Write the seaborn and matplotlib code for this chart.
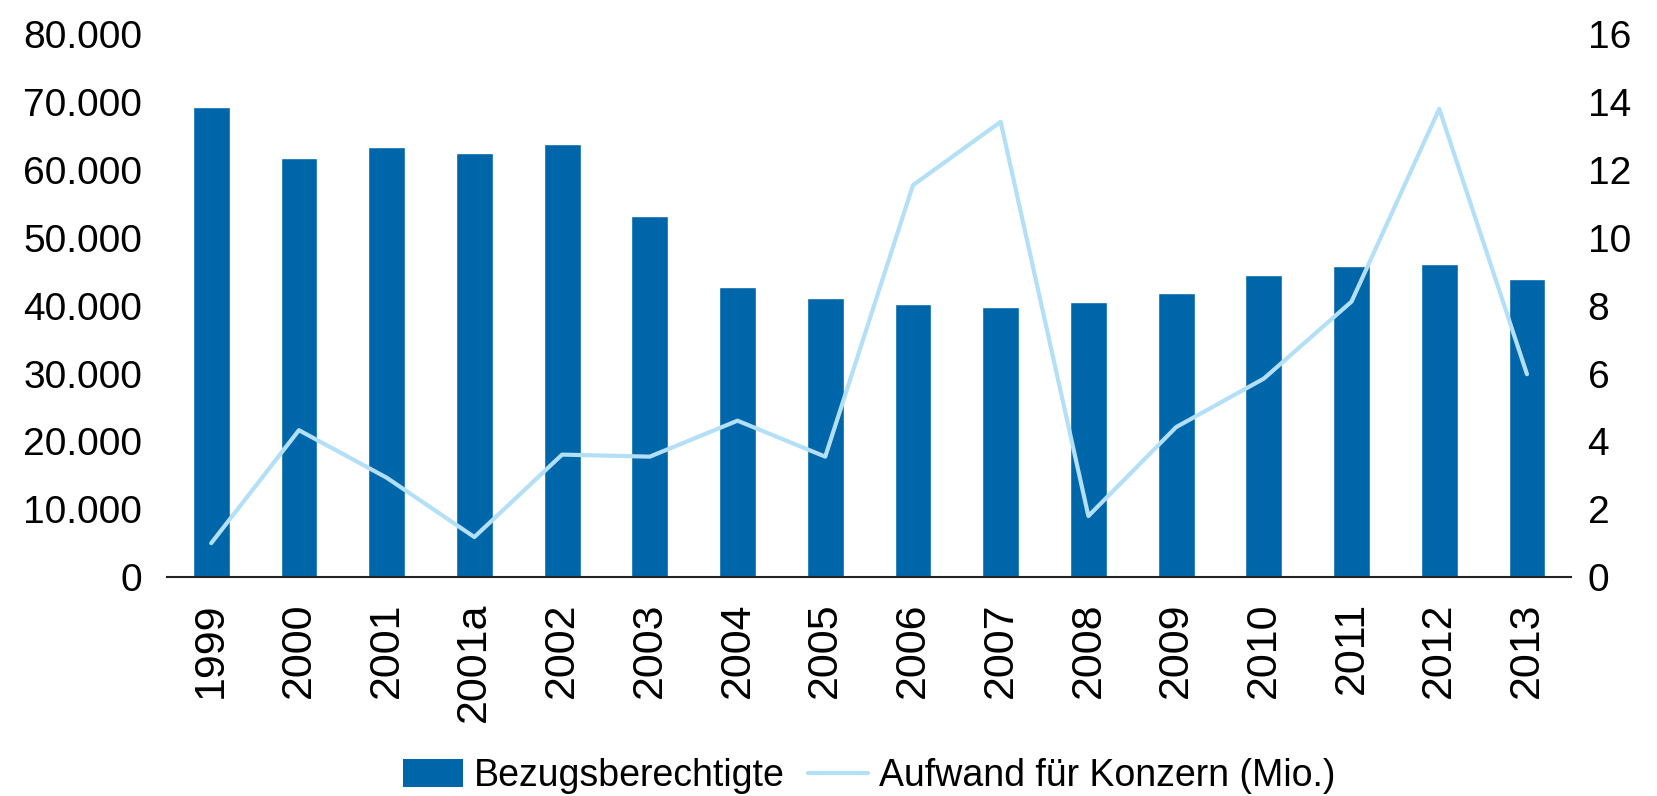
import matplotlib
matplotlib.use("Agg")
import matplotlib.pyplot as plt
import seaborn as sns
import numpy as np
import pandas as pd
from matplotlib.patches import Patch
from matplotlib.lines import Line2D

years = ["1999", "2000", "2001", "2001a", "2002", "2003", "2004", "2005",
         "2006", "2007", "2008", "2009", "2010", "2011", "2012", "2013"]
bezugsberechtigte = [69300, 61800, 63400, 62500, 63800, 53200, 42800, 41200,
                     40200, 39800, 40500, 41900, 44500, 45800, 46100, 44000]
aufwand = [1.0, 4.33, 2.93, 1.18, 3.61, 3.55, 4.61, 3.55,
           11.55, 13.42, 1.8, 4.42, 5.85, 8.12, 13.8, 5.98]

bar_color = "#0066aa"
line_color = "#b3dff7"

sns.set_style("white")
plt.rcParams["font.family"] = ["Liberation Sans", "DejaVu Sans"]
plt.rcParams["text.color"] = "black"
plt.rcParams["xtick.color"] = "black"
plt.rcParams["ytick.color"] = "black"

df = pd.DataFrame({"Jahr": years, "Bezugsberechtigte": bezugsberechtigte})

fig, ax = plt.subplots(figsize=(16.57, 7.96), dpi=100)
fig.subplots_adjust(left=0.101, right=0.948, bottom=0.275, top=0.957)

sns.barplot(data=df, x="Jahr", y="Bezugsberechtigte", color=bar_color,
            saturation=1, width=0.42, ax=ax)
ax.set_xlim(-0.5, len(years) - 0.5)
ax.set_ylim(0, 80000)
ax.set_yticks(range(0, 80001, 10000))
ax.set_yticklabels([f"{v:,}".replace(",", ".") for v in range(0, 80001, 10000)])
ax.set_xlabel("")
ax.set_ylabel("")
ax.tick_params(axis="y", labelsize=28, length=0, pad=18)
ax.tick_params(axis="x", labelsize=31, length=0, pad=18, rotation=90)

ax2 = ax.twinx()
sns.lineplot(x=np.arange(len(years)), y=aufwand, color=line_color,
             linewidth=3.0, ax=ax2)
ax2.set_ylim(0, 16)
ax2.set_yticks(range(0, 17, 2))
ax2.tick_params(axis="y", labelsize=28, length=0, pad=12)
ax2.set_ylabel("")

for a in (ax, ax2):
    for side in ("top", "left", "right", "bottom"):
        a.spines[side].set_visible(False)
ax.spines["bottom"].set_visible(True)
ax.spines["bottom"].set_color("#222222")
ax.spines["bottom"].set_linewidth(1.5)

handles = [Patch(facecolor=bar_color, edgecolor="none"),
           Line2D([0], [0], color=line_color, linewidth=3.0)]
labels = ["Bezugsberechtigte", "Aufwand für Konzern (Mio.)"]
fig.legend(handles, labels, loc="lower center", ncol=2, frameon=False,
           fontsize=27, bbox_to_anchor=(0.5245, -0.04), handlelength=1.6,
           handleheight=0.75, handletextpad=0.3, columnspacing=0.6)

fig.savefig("out.png", dpi=100)
